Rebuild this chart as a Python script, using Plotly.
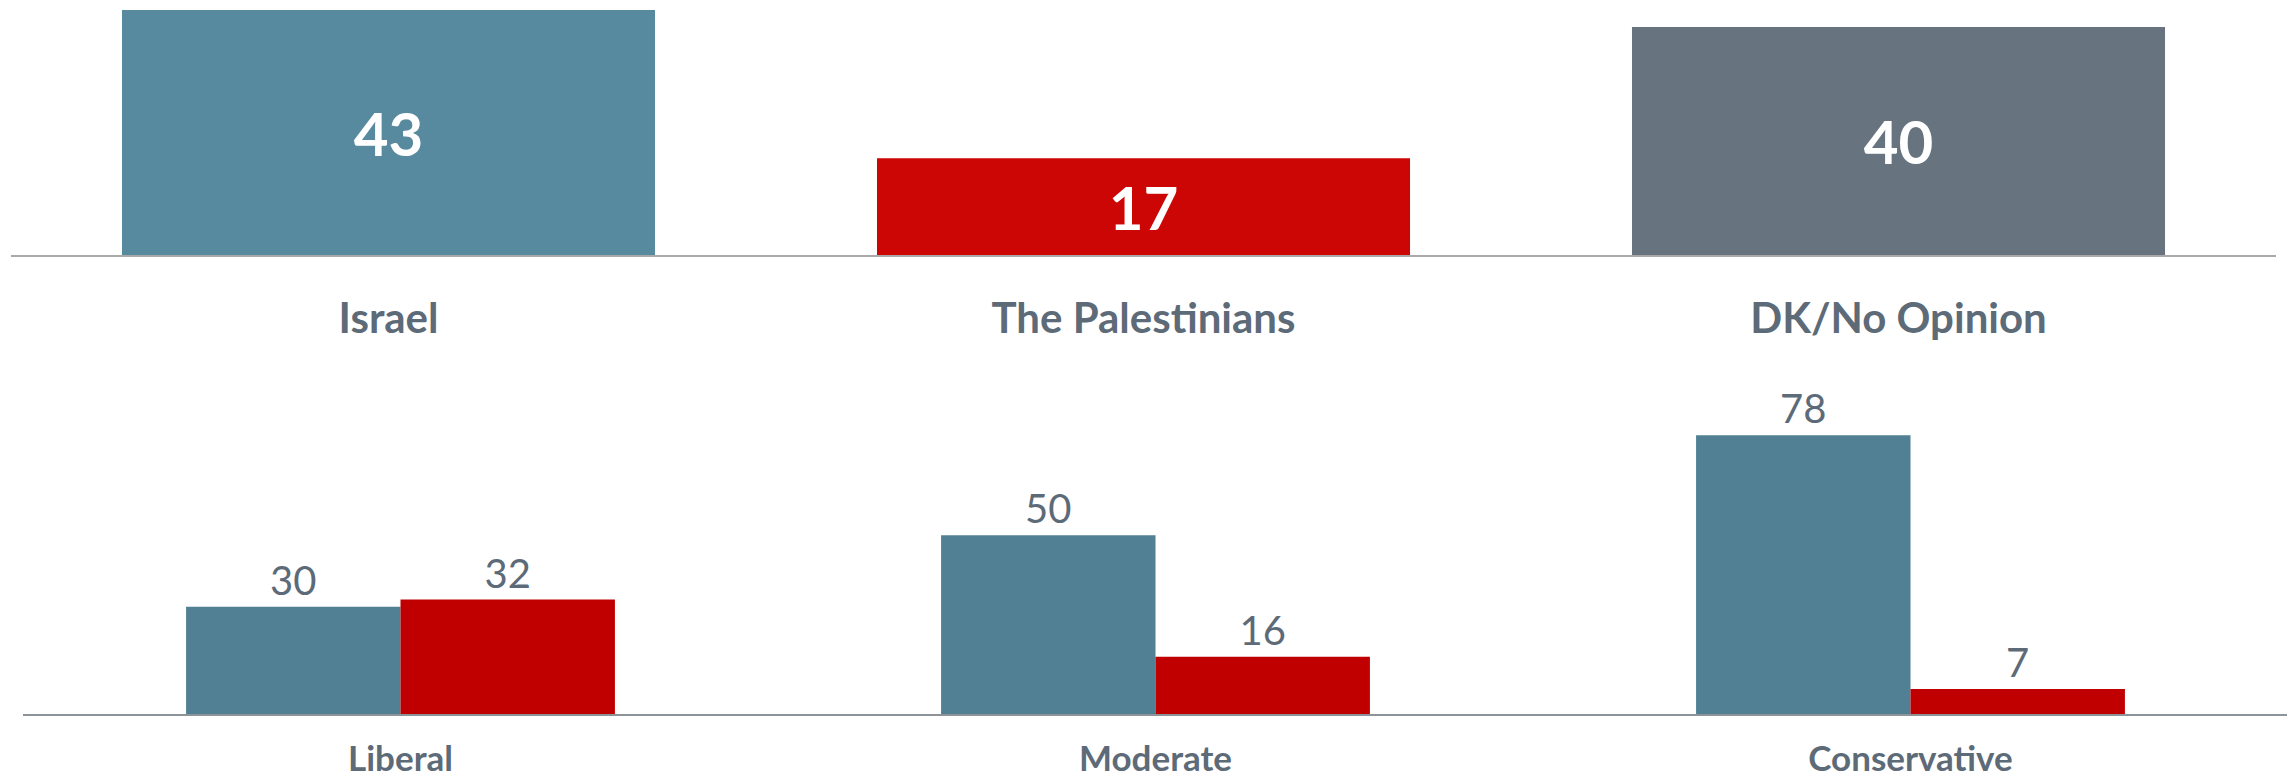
import plotly.graph_objects as go
from plotly.subplots import make_subplots

W, H = 2295, 779

# top panel: who do you sympathize with
TOP_CATS = ['Israel', 'The Palestinians', 'DK/No Opinion']
TOP_VALUES = [43, 17, 40]
TOP_COLORS = ['#588a9f', '#cc0605', '#67737f']

# bottom panel: by ideology
IDEO_CATS = ['Liberal', 'Moderate', 'Conservative']
ISRAEL_BY_IDEO = [30, 50, 78]
PAL_BY_IDEO = [32, 16, 7]

LABEL_GRAY = '#5d6a78'
FONT = 'Lato, "Open Sans", sans-serif'
PAGE_OFFSET = 8  # default body margin of the html page


def px_x(x0, x1):
    x0, x1 = x0 - PAGE_OFFSET, x1 - PAGE_OFFSET
    return [x0 / W, x1 / W]


def px_y(top, bottom):
    # pixel rows (from top) -> paper domain
    top, bottom = top - PAGE_OFFSET, bottom - PAGE_OFFSET
    return [1 - bottom / H, 1 - top / H]


fig = make_subplots(rows=2, cols=1)

fig.add_trace(go.Bar(
    x=TOP_CATS, y=TOP_VALUES,
    width=0.706,
    marker=dict(color=TOP_COLORS, line=dict(width=0)),
    text=TOP_VALUES,
    textposition='inside',
    insidetextanchor='middle',
    textfont=dict(color='white', size=60, family=FONT, weight='bold'),
    showlegend=False,
), row=1, col=1)

fig.add_trace(go.Bar(
    x=IDEO_CATS, y=ISRAEL_BY_IDEO, name='Israel',
    marker=dict(color='#517f93', line=dict(width=0)),
    text=ISRAEL_BY_IDEO, textposition='outside',
    textfont=dict(color=LABEL_GRAY, size=40, family=FONT),
    cliponaxis=False, showlegend=False,
), row=2, col=1)

fig.add_trace(go.Bar(
    x=IDEO_CATS, y=PAL_BY_IDEO, name='The Palestinians',
    marker=dict(color='#c00000', line=dict(width=0)),
    text=PAL_BY_IDEO, textposition='outside',
    textfont=dict(color=LABEL_GRAY, size=40, family=FONT),
    cliponaxis=False, showlegend=False,
), row=2, col=1)

fig.update_layout(
    width=W, height=H,
    margin=dict(l=0, r=0, t=0, b=0),
    paper_bgcolor='white', plot_bgcolor='white',
    font=dict(family=FONT, color=LABEL_GRAY),
    barmode='group', bargap=0.432, bargroupgap=0,
    xaxis=dict(domain=px_x(11, 2276), showline=True, linecolor='#a9a9a9', linewidth=2,
               ticks='', ticklabelstandoff=26, showgrid=False, zeroline=False,
               tickfont=dict(size=42, color=LABEL_GRAY, family=FONT, weight='bold')),
    yaxis=dict(domain=px_y(10, 255), range=[0, 43], visible=False),
    xaxis2=dict(domain=px_x(23, 2288), showline=True, linecolor='#8c9399', linewidth=2,
                ticks='', ticklabelstandoff=13, showgrid=False, zeroline=False,
                tickfont=dict(size=35, color=LABEL_GRAY, family=FONT, weight='bold')),
    yaxis2=dict(domain=px_y(428, 714), range=[0, 80], visible=False),
)

fig.write_html('out.html')
